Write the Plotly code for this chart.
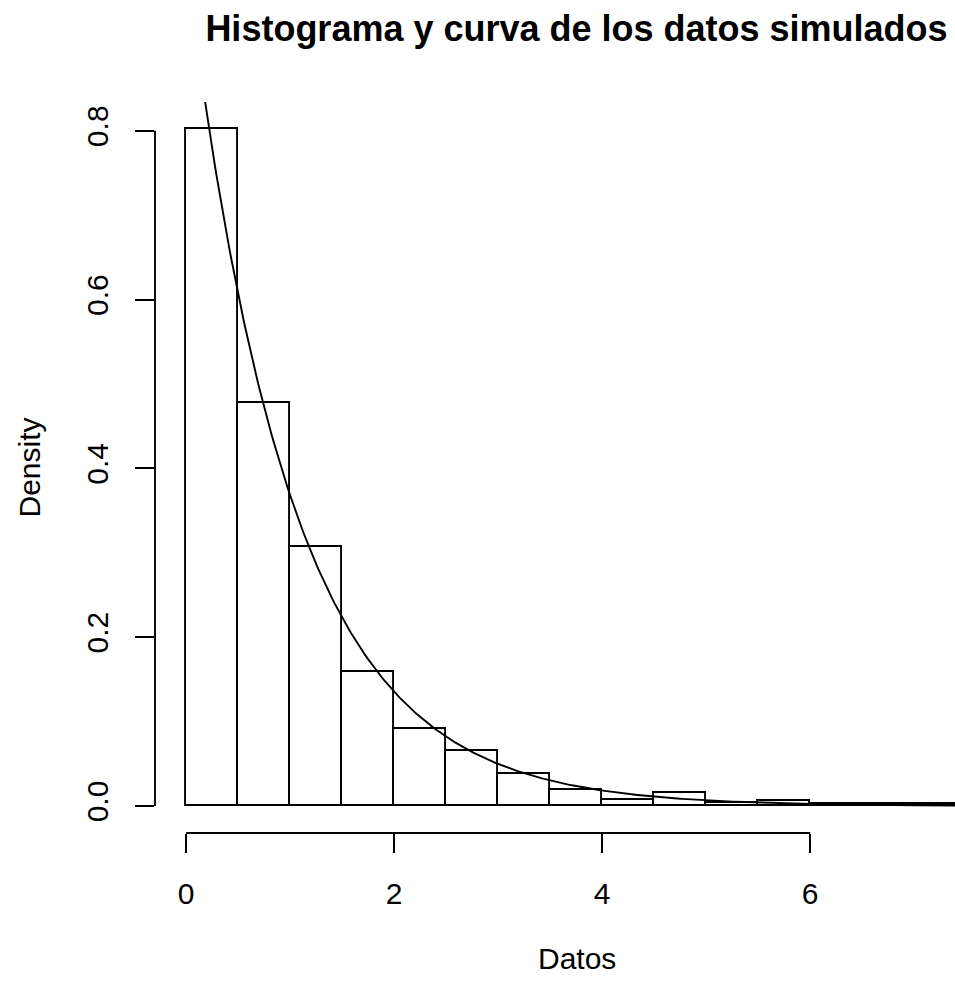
import numpy as np
import plotly.graph_objects as go

# Histogram data (density per bin of width 0.5)
bin_starts = [0.0, 0.5, 1.0, 1.5, 2.0, 2.5, 3.0, 3.5, 4.0, 4.5, 5.0, 5.5, 6.0, 6.5, 7.0]
densities = [0.802, 0.478, 0.307, 0.159, 0.091, 0.065, 0.038, 0.019, 0.007, 0.015,
             0.004, 0.006, 0.002, 0.002, 0.002]
bin_width = 0.5

# Theoretical exponential density curve
rate = 1.0
curve_from, curve_to = 0.0, 7.8

x_ticks = [0, 2, 4, 6]
x_ticklabels = ["0", "2", "4", "6"]
y_ticks = [0.0, 0.2, 0.4, 0.6, 0.8]
y_ticklabels = ["0.0", "0.2", "0.4", "0.6", "0.8"]

title_text = "Histograma y curva de los datos simulados"
xlabel = "Datos"
ylabel = "Density"

FONT = "Liberation Sans, Arial, Helvetica, sans-serif"
LW = 1.9
FS = 30
W, H = 955, 981
ML, MR, MT, MB = 155, 0, 102, 148

centers = [s + bin_width / 2 for s in bin_starts]
cx = np.linspace(curve_from, curve_to, 400)
cy = rate * np.exp(-rate * cx)

fig = go.Figure()
fig.add_trace(go.Bar(
    x=centers, y=densities, width=bin_width,
    marker=dict(color="white", line=dict(color="black", width=LW)),
    showlegend=False, hoverinfo="skip",
))
fig.add_trace(go.Scatter(
    x=cx, y=cy, mode="lines", line=dict(color="black", width=LW),
    showlegend=False, hoverinfo="skip",
))

px_per_unit = 104.0
x_left = -0.3
x_right = x_left + (W - ML - MR) / px_per_unit
y_range = [-0.032, 0.8341]

fig.update_layout(
    width=W, height=H,
    margin=dict(l=ML, r=MR, t=MT, b=MB),
    paper_bgcolor="white", plot_bgcolor="white",
    font=dict(family=FONT, size=FS, color="black"),
    bargap=0,
    xaxis=dict(
        range=[x_left, x_right], showgrid=False, zeroline=False, showline=False,
        tickmode="array", tickvals=x_ticks, ticktext=x_ticklabels,
        ticks="outside", ticklen=19, tickwidth=LW, tickcolor="black",
        ticklabelstandoff=15,
        tickfont=dict(size=FS, family=FONT),
    ),
    yaxis=dict(
        range=y_range, showgrid=False, zeroline=False, showline=False,
        tickmode="array", tickvals=y_ticks, ticktext=y_ticklabels,
        ticks="outside", ticklen=19, tickwidth=LW, tickcolor="black",
        tickangle=-90, ticklabelstandoff=15,
        tickfont=dict(size=FS, family=FONT),
    ),
    title=dict(
        text="<b>" + title_text + "</b>",
        xref="container", yref="container",
        x=576.5 / W, y=1 - 28 / H, xanchor="center", yanchor="middle",
        font=dict(size=36, family=FONT, color="black"),
    ),
)

# R-style axis lines spanning first to last tick
fig.add_shape(type="line", xref="x", yref="paper",
              x0=x_ticks[0], x1=x_ticks[-1], y0=0, y1=0,
              line=dict(color="black", width=LW))
fig.add_shape(type="line", xref="paper", yref="y",
              x0=0, x1=0, y0=y_ticks[0], y1=y_ticks[-1],
              line=dict(color="black", width=LW))

# Axis titles
fig.add_annotation(text=xlabel, xref="paper", yref="paper",
                   x=(576.5 - ML) / (W - ML - MR), y=-(959 - (H - MB)) / (H - MT - MB),
                   xanchor="center", yanchor="middle", showarrow=False,
                   font=dict(size=FS, family=FONT))
fig.add_annotation(text=ylabel, xref="paper", yref="paper",
                   x=-(ML - 29) / (W - ML - MR), y=0.5, textangle=-90,
                   xanchor="center", yanchor="middle", showarrow=False,
                   font=dict(size=FS, family=FONT))

fig.write_html("out.html")
